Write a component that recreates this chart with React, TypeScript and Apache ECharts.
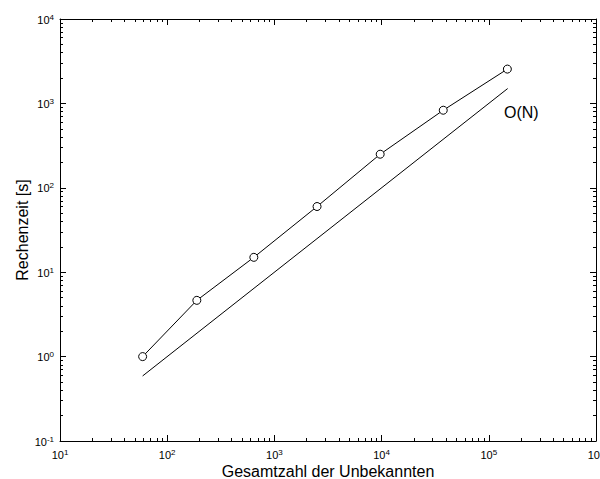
import React, { useEffect, useRef } from "react";
import * as echarts from "echarts";

// Measured data (log-log)
const unknowns = [59, 189, 643, 2500, 9700, 37600, 149000];
const runtimes = [1.0, 4.64, 15.0, 60, 250, 830, 2550];
// O(N) reference line
const refUnknowns = [59, 150000];
const refRuntimes = [0.59, 1500];
const refLabel = "O(N)";

const xTitle = "Gesamtzahl der Unbekannten";
const yTitle = "Rechenzeit [s]";
const xMin = 10, xMax = 1e6;
const yMin = 0.1, yMax = 1e4;

const FONT = "'Liberation Sans', Arial, Helvetica, sans-serif";

const fmt = (v: number) => {
  const e = Math.round(Math.log10(v));
  return `{b|10}{e|${e}}`;
};

const rich = {
  b: { fontSize: 11, fontFamily: FONT, color: "#000", lineHeight: 12, verticalAlign: "bottom" },
  e: { fontSize: 8, fontFamily: FONT, color: "#000", lineHeight: 12, verticalAlign: "top" },
};

const tickStyle = {
  axisTick: { show: true, inside: true, length: 6, lineStyle: { color: "#000", width: 1 } },
  minorTick: { show: true, splitNumber: 9, length: 3, lineStyle: { color: "#000", width: 1 } },
  splitLine: { show: false },
  minorSplitLine: { show: false },
  axisLine: { show: true, lineStyle: { color: "#000", width: 1 } },
};

export default function App() {
  const ref = useRef<HTMLDivElement>(null);
  useEffect(() => {
    document.body.style.margin = "0";
    document.body.style.overflow = "hidden";
    if (!ref.current) return;
    const chart = echarts.init(ref.current, null, { renderer: "svg" });

    chart.setOption({
      animation: false,
      backgroundColor: "#fff",
      textStyle: { fontFamily: FONT },
      grid: { left: 60, right: 4, top: 19, bottom: 38, outerBoundsMode: "none", containLabel: false },
      xAxis: [
        {
          type: "log",
          logBase: 10,
          min: xMin,
          max: xMax,
          position: "bottom",
          name: xTitle,
          nameLocation: "middle",
          nameGap: 22,
          nameMoveOverlap: false,
          nameTextStyle: { fontSize: 16, color: "#000", fontFamily: FONT },
          ...tickStyle,
          axisLabel: { margin: 7, formatter: fmt, rich, showMinLabel: true, showMaxLabel: true },
        },
        {
          type: "log",
          logBase: 10,
          min: xMin,
          max: xMax,
          position: "top",
          ...tickStyle,
          axisLabel: { show: false },
        },
      ],
      yAxis: [
        {
          type: "log",
          logBase: 10,
          min: yMin,
          max: yMax,
          position: "left",
          name: yTitle,
          nameLocation: "middle",
          nameGap: 30,
          nameMoveOverlap: false,
          nameTextStyle: { fontSize: 16, color: "#000", fontFamily: FONT },
          ...tickStyle,
          axisLabel: { margin: 6, formatter: fmt, rich, showMinLabel: true, showMaxLabel: true },
        },
        {
          type: "log",
          logBase: 10,
          min: yMin,
          max: yMax,
          position: "right",
          ...tickStyle,
          axisLabel: { show: false },
        },
      ],
      series: [
        {
          type: "line",
          data: unknowns.map((x, i) => [x, runtimes[i]]),
          symbol: "circle",
          symbolSize: 8,
          showSymbol: true,
          lineStyle: { color: "#000", width: 1 },
          itemStyle: { color: "#fff", borderColor: "#000", borderWidth: 1 },
          z: 3,
        },
        {
          type: "line",
          data: refUnknowns.map((x, i) => [x, refRuntimes[i]]),
          showSymbol: false,
          symbol: "none",
          lineStyle: { color: "#000", width: 1 },
          z: 2,
        },
      ],
      graphic: [
        {
          type: "text",
          left: 504,
          top: 104,
          style: { text: refLabel, fontSize: 16, fontFamily: FONT, fill: "#000" },
        },
      ],
    });
    return () => chart.dispose();
  }, []);
  return <div ref={ref} style={{ width: 600, height: 479 }} />;
}
